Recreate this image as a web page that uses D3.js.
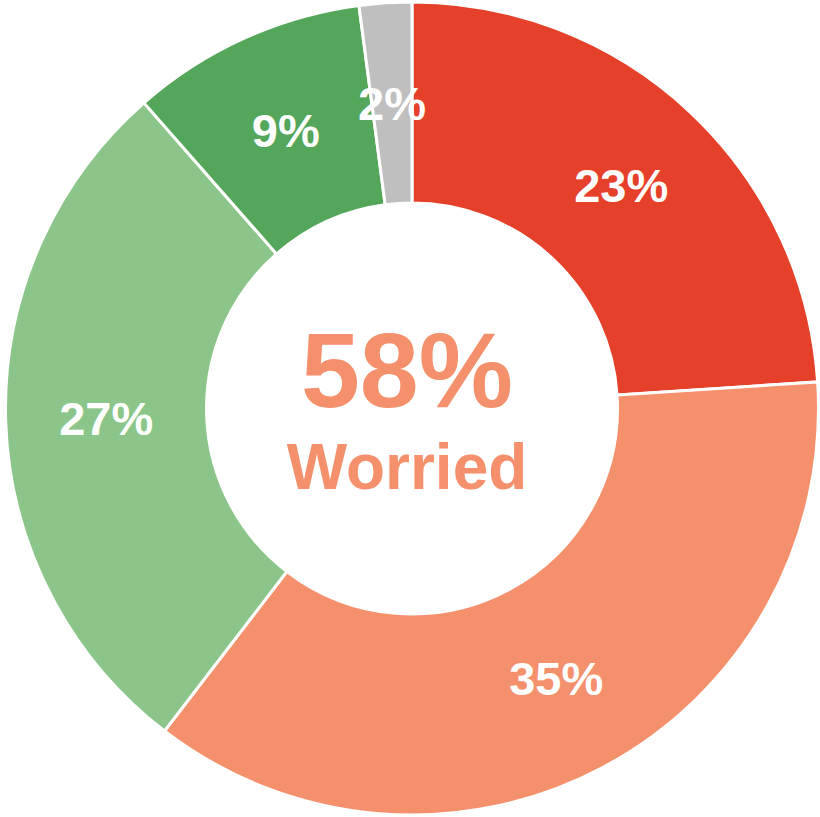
<!DOCTYPE html>
<html>
<head>
<meta charset="utf-8">
<script src="https://cdn.jsdelivr.net/npm/d3@7"></script>
<style>
  body { margin: 0; background: #fff; }
  svg text { font-family: "Liberation Sans", Arial, sans-serif; font-weight: bold; }
</style>
</head>
<body>
<div id="chart"></div>
<script>
// slice data, clockwise from 12 o'clock
var categories = ["Very worried", "Somewhat worried", "Not very worried", "Not at all worried", "Don't know"];
var values = [23, 35, 27, 9, 2];
var colors = ["#e5402a", "#f5906c", "#8bc589", "#53a65a", "#bfbfbf"];
var centerValue = "58%";
var centerLabel = "Worried";

var width = 820, height = 817;
var cx = 412, cy = 408.5;
var outerR = 406.5, innerR = 205.5;

var svg = d3.select("#chart").append("svg")
    .attr("width", width)
    .attr("height", height);

var g = svg.append("g")
    .attr("transform", "translate(" + cx + "," + cy + ")");

var pie = d3.pie().sort(null).value(function(d) { return d; });
var arc = d3.arc().innerRadius(innerR).outerRadius(outerR);
var slices = pie(values);

g.selectAll("path")
    .data(slices)
    .enter().append("path")
    .attr("d", arc)
    .attr("fill", function(d, i) { return colors[i]; })
    .attr("stroke", "#fff")
    .attr("stroke-width", 3)
    .attr("stroke-linejoin", "miter");

g.selectAll("text.lbl")
    .data(slices)
    .enter().append("text")
    .attr("class", "lbl")
    .attr("transform", function(d) { return "translate(" + arc.centroid(d) + ")"; })
    .attr("text-anchor", "middle")
    .attr("dy", "0.36em")
    .attr("fill", "#fff")
    .style("font-size", "47px")
    .text(function(d) { return d.data + "%"; });

// center text (sits a little left of the ring centre)
g.append("text")
    .attr("text-anchor", "middle")
    .attr("x", -5)
    .attr("y", -1.5)
    .attr("fill", colors[1])
    .style("font-size", "106px")
    .text(centerValue);

g.append("text")
    .attr("text-anchor", "middle")
    .attr("x", -5)
    .attr("y", 80)
    .attr("fill", colors[1])
    .style("font-size", "64px")
    .text(centerLabel);
</script>
</body>
</html>
